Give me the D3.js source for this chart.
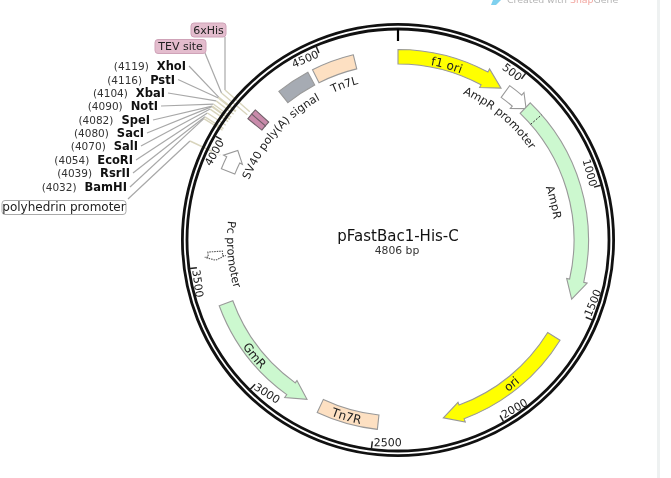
<!DOCTYPE html>
<html>
<head>
<meta charset="utf-8">
<style>
  html, body { margin: 0; padding: 0; background: #fff; }
  svg { display: block; filter: blur(0.35px); font-family: "DejaVu Sans", sans-serif; }
  .tick-label { font-size: 11px; fill: #222; }
  .feature-label { font-size: 11.2px; fill: #222; }
  .band-label { font-size: 12px; fill: #222; }
  .site-pos { font-size: 10.5px; fill: #333; }
  .site-name { font-size: 11.5px; font-weight: bold; fill: #111; }
</style>
</head>
<body>
<svg width="671" height="478"></svg>
<script src="https://cdn.jsdelivr.net/npm/d3@7"></script>
<script>
const plasmidName = 'pFastBac1-His-C';
const plasmidLength = 4806;

const tickBp = [500, 1000, 1500, 2000, 2500, 3000, 3500, 4000, 4500];

// restriction sites, top to bottom as they are listed
const siteNames = ['XhoI', 'PstI', 'XbaI', 'NotI', 'SpeI', 'SacI', 'SalI', 'EcoRI', 'RsrII', 'BamHI'];
const siteBp = [4119, 4116, 4104, 4090, 4082, 4080, 4070, 4054, 4039, 4032];

// arrows, tip is at arrowEnd
const arrowNames = ['f1 ori', 'AmpR promoter', 'AmpR', 'ori', 'GmR', 'Pc promoter', 'polyhedrin promoter'];
const arrowStart = [0, 479, 587, 1625, 3335, 3556, 3898];
const arrowEnd = [456, 591, 1453, 2212, 2800, 3520, 3994];

// plain boxes without direction
const boxNames = ['Tn7R', 'SV40 poly(A) signal', 'Tn7L', '6xHis', 'TEV site'];
const boxStart = [2486, 4289, 4450, 4146, 4124];
const boxEnd = [2738, 4429, 4625, 4170, 4148];

const ampSignalBp = 653;

// ---- layout, kept apart from the values above
const cx = 398, cy = 240;
const ringOuter = 215.6, ringInner = 211;
const bandOuter = 190.5, bandInner = 176;
const headOuter = 194, headInner = 173;
const elbowR = 229;

const featureColor = {
  'f1 ori': '#ffff00', 'ori': '#ffff00',
  'AmpR': '#ccf8cf', 'GmR': '#ccf8cf',
  'AmpR promoter': '#ffffff', 'polyhedrin promoter': '#ffffff', 'Pc promoter': '#ffffff',
  'Tn7R': '#fde0c2', 'Tn7L': '#fde0c2',
  'SV40 poly(A) signal': '#a6abb3',
  '6xHis': '#c98bab', 'TEV site': '#c98bab'
};

const svg = d3.select('svg');

const angle = d3.scaleLinear().domain([0, plasmidLength]).range([0, 2 * Math.PI]);
const px = (bp, r) => r * Math.sin(angle(bp));
const py = (bp, r) => -r * Math.cos(angle(bp));

// app watermark, cut by the top of the picture
const mark = svg.append('text')
  .attr('x', 507).attr('y', 3)
  .style('font-size', '9.4px').attr('fill', '#b5b5b5');
mark.append('tspan').text('Created with ');
mark.append('tspan').attr('fill', '#f2a6a0').text('Snap');
mark.append('tspan').text('Gene');
svg.append('path')
  .attr('d', d3.line()([[493, 0], [501, 0], [496, 5], [491, 5]]))
  .attr('fill', '#7fd0ee');
svg.append('rect')
  .attr('x', 657).attr('y', 0).attr('width', 3).attr('height', 478)
  .attr('fill', '#eef1f1');

const g = svg.append('g').attr('transform', `translate(${cx},${cy})`);
const defs = svg.append('defs');

// ---- leader lines, under the ring
const leaders = g.append('g').attr('fill', 'none');

const siteRight = [186, 175, 165, 158, 150, 144, 138, 133, 130, 127];
const siteY = [70, 83.5, 97, 110, 124, 137, 150, 164, 177, 191];

siteNames.forEach((name, i) => {
  const bp = siteBp[i];
  leaders.append('line')
    .attr('x1', siteRight[i] + 3 - cx).attr('y1', siteY[i] - 4 - cy)
    .attr('x2', px(bp, elbowR)).attr('y2', py(bp, elbowR))
    .attr('stroke', '#a8a8a8').attr('stroke-width', 1.2);
  leaders.append('line')
    .attr('x1', px(bp, elbowR)).attr('y1', py(bp, elbowR))
    .attr('x2', px(bp, 207)).attr('y2', py(bp, 207))
    .attr('stroke', '#d8d4bc').attr('stroke-width', 1.4);
});

// labelled boxes outside the ring: 6xHis, TEV site, polyhedrin promoter
const calloutBp = { '6xHis': 4150, 'TEV site': 4135, 'polyhedrin promoter': 3945 };
const calloutFrom = {
  '6xHis': [[225, 37], [225, 90]],
  'TEV site': [[205, 53], [221.5, 93]],
  'polyhedrin promoter': [[128, 199], [190, 141]]
};
Object.keys(calloutBp).forEach(name => {
  const bp = calloutBp[name];
  const from = calloutFrom[name].map(p => [p[0] - cx, p[1] - cy]);
  leaders.append('path')
    .attr('d', d3.line()(from))
    .attr('stroke', '#a8a8a8').attr('stroke-width', 1.2);
  leaders.append('line')
    .attr('x1', from[1][0]).attr('y1', from[1][1])
    .attr('x2', px(bp, 196)).attr('y2', py(bp, 196))
    .attr('stroke', '#d8d4bc').attr('stroke-width', 1.4);
});

// ---- ring and ticks
[ringOuter, ringInner].forEach(r => {
  g.append('circle').attr('r', r).attr('fill', 'none').attr('stroke', '#111').attr('stroke-width', 2.8);
});

g.append('line')
  .attr('x1', px(0, 211)).attr('y1', py(0, 211))
  .attr('x2', px(0, 199)).attr('y2', py(0, 199))
  .attr('stroke', '#000').attr('stroke-width', 2.2);

g.selectAll('.tick').data(tickBp).enter().append('line')
  .attr('class', 'tick')
  .attr('x1', d => px(d, 210)).attr('y1', d => py(d, 210))
  .attr('x2', d => px(d, 203)).attr('y2', d => py(d, 203))
  .attr('stroke', '#222').attr('stroke-width', 1.5);

// the picture does not quite follow the tangent for the bottom labels
const tickTurn = { 2500: -7.3, 3000: -12 };

// rotate labels with the ring, upper half ends at the tick, lower half starts there
g.selectAll('.tick-label').data(tickBp).enter().append('text')
  .attr('class', 'tick-label')
  .attr('text-anchor', d => (d < 1250 || d > 3750) ? 'end' : 'start')
  .attr('transform', d => {
    const deg = angle(d) * 180 / Math.PI;
    const upper = d < 1250 || d > 3750;
    const rot = (upper ? deg : deg - 180) + (tickTurn[d] || 0);
    const r = upper ? 199 : 208;
    return `translate(${px(d, r)},${py(d, r)}) rotate(${rot}) translate(${upper ? -1 : 2},0)`;
  })
  .text(d => d);

// ---- features
const arrowPath = (start, end) => {
  const dir = end > start ? 1 : -1;
  const len = Math.abs(end - start);
  const neck = end - dir * Math.min(80, len * 0.45);
  const off = -Math.PI / 2;
  const a0 = angle(start) + off, a1 = angle(neck) + off;
  const p = d3.path();
  p.moveTo(bandOuter * Math.cos(a0), bandOuter * Math.sin(a0));
  p.arc(0, 0, bandOuter, a0, a1, dir < 0);
  p.lineTo(headOuter * Math.cos(a1), headOuter * Math.sin(a1));
  p.lineTo(px(end, 183.5), py(end, 183.5));
  p.lineTo(headInner * Math.cos(a1), headInner * Math.sin(a1));
  p.lineTo(bandInner * Math.cos(a1), bandInner * Math.sin(a1));
  p.arc(0, 0, bandInner, a1, a0, dir > 0);
  p.closePath();
  return p.toString();
};

arrowNames.forEach((name, i) => {
  g.append('path')
    .attr('d', arrowPath(arrowStart[i], arrowEnd[i]))
    .attr('fill', featureColor[name])
    .attr('stroke', name === 'Pc promoter' ? '#555' : '#999')
    .attr('stroke-dasharray', name === 'Pc promoter' ? '1.5 1' : null)
    .attr('stroke-width', 1.1);
});

boxNames.forEach((name, i) => {
  const small = name === '6xHis' || name === 'TEV site';
  g.append('path')
    .attr('d', d3.arc().innerRadius(small ? 175 : bandInner).outerRadius(small ? 193 : bandOuter)({
      startAngle: angle(boxStart[i]), endAngle: angle(boxEnd[i])
    }))
    .attr('fill', featureColor[name])
    .attr('stroke', small ? '#6f5f68' : '#999')
    .attr('stroke-width', 1.1);
});

// signal peptide boundary inside AmpR
g.append('line')
  .attr('x1', px(ampSignalBp, bandInner)).attr('y1', py(ampSignalBp, bandInner))
  .attr('x2', px(ampSignalBp, bandOuter)).attr('y2', py(ampSignalBp, bandOuter))
  .attr('stroke', '#333').attr('stroke-dasharray', '2 1.5');

// ---- labels that follow the circle
// [name, centre bp, baseline radius, clockwise, class]
const curvedLabels = [
  ['f1 ori', 208, 178, true, 'band-label'],
  ['AmpR promoter', 531, 160, true, 'feature-label'],
  ['AmpR', 1020, 157, true, 'feature-label'],
  ['ori', 1892, 187.5, false, 'band-label'],
  ['Tn7R', 2620, 188, false, 'band-label'],
  ['GmR', 3086, 188.5, false, 'band-label'],
  ['Pc promoter', 3538, 171, false, 'feature-label'],
  ['SV40 poly(A) signal', 4158, 160.5, true, 'feature-label'],
  ['Tn7L', 4552, 161, true, 'feature-label']
];

curvedLabels.forEach((d, i) => {
  const [name, bp, r, cw, cls] = d;
  const id = 'curve' + i;
  const half = plasmidLength / 2;
  const a0 = angle(bp - half) - Math.PI / 2;
  const a1 = angle(bp + half) - Math.PI / 2;
  const p = d3.path();
  // path runs through the label centre, half way along it
  if (cw) {
    p.moveTo(r * Math.cos(a0), r * Math.sin(a0));
    p.arc(0, 0, r, a0, a1, false);
  } else {
    p.moveTo(r * Math.cos(a1), r * Math.sin(a1));
    p.arc(0, 0, r, a1, a0, true);
  }
  defs.append('path').attr('id', id).attr('d', p.toString());
  g.append('text')
    .attr('class', cls)
    .append('textPath')
    .attr('href', '#' + id)
    .attr('startOffset', '50%')
    .attr('text-anchor', 'middle')
    .text(name);
});

// ---- white cut through the 4000 label, from the polyhedrin leader
g.append('line')
  .attr('x1', px(3945, 206)).attr('y1', py(3945, 206))
  .attr('x2', px(3945, 194)).attr('y2', py(3945, 194))
  .attr('stroke', '#fff').attr('stroke-width', 1.2);

// ---- centre text
svg.append('text')
  .attr('x', cx).attr('y', 241)
  .attr('text-anchor', 'middle')
  .style('font-size', '15px').attr('fill', '#111')
  .text(plasmidName);
svg.append('text')
  .attr('x', cx - 1).attr('y', 254)
  .attr('text-anchor', 'middle')
  .style('font-size', '10.8px').attr('fill', '#333')
  .text(`${plasmidLength} bp`);

// ---- site list on the left
siteNames.forEach((name, i) => {
  const t = svg.append('text').attr('x', siteRight[i]).attr('y', siteY[i]).attr('text-anchor', 'end');
  t.append('tspan').attr('class', 'site-pos').text(`(${siteBp[i]})`);
  t.append('tspan').attr('class', 'site-name').attr('dx', 8).text(name);
});

// ---- boxed labels
const boxedLabels = [
  { name: '6xHis', x: 191, y: 23, w: 35, h: 14, fill: '#e3bccd', stroke: '#cfa3b8', size: 11 },
  { name: 'TEV site', x: 155, y: 39.5, w: 51, h: 14, fill: '#e3bccd', stroke: '#cfa3b8', size: 11 },
  { name: 'polyhedrin promoter', x: 2, y: 200.5, w: 124, h: 14, fill: '#fff', stroke: '#aaa', size: 12 }
];
boxedLabels.forEach(b => {
  svg.append('rect')
    .attr('x', b.x).attr('y', b.y).attr('width', b.w).attr('height', b.h).attr('rx', 3)
    .attr('fill', b.fill).attr('stroke', b.stroke);
  svg.append('text')
    .attr('x', b.x + b.w / 2).attr('y', b.y + b.h - 3.5)
    .attr('text-anchor', 'middle')
    .style('font-size', b.size + 'px').attr('fill', '#222')
    .text(b.name);
});
</script>
</body>
</html>
